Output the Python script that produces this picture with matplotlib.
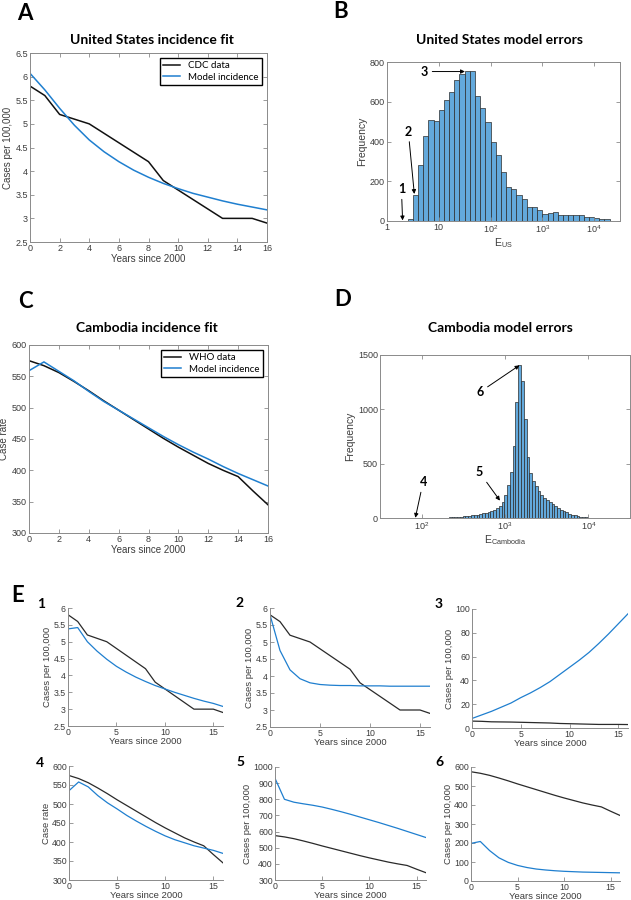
import numpy as np
import matplotlib
matplotlib.use('Agg')
import matplotlib.pyplot as plt
from matplotlib.ticker import NullLocator

plt.rcParams['font.family'] = ['Liberation Sans', 'DejaVu Sans']
plt.rcParams['mathtext.default'] = 'regular'

W, H = 631, 900

# ---- data ----
years = list(range(17))

us_cdc = [5.8, 5.6, 5.2, 5.1, 5.0, 4.8, 4.6, 4.4, 4.2, 3.8, 3.6, 3.4, 3.2, 3.0, 3.0, 3.0, 2.9]
us_model = [6.07, 5.72, 5.33, 4.97, 4.66, 4.41, 4.2, 4.02, 3.87, 3.74, 3.63, 3.53,
            3.45, 3.37, 3.3, 3.24, 3.18]

kh_who = [575, 567, 556, 542, 527, 511, 496, 481, 466, 451, 437, 424, 411, 400, 390, 367, 345]
kh_model = [559, 573, 558, 543, 526, 510, 496, 482, 468, 454, 441, 429, 418, 406, 395, 385, 375]

# model errors histograms (log10 bin start, bin width in log10, counts)
us_bin_start, us_bin_width = 0.4, 0.1
us_counts = [10, 130, 280, 430, 510, 505, 560, 610, 650, 710, 740, 755, 755, 630, 570,
             500, 400, 330, 245, 173, 161, 133, 111, 69, 69, 57, 35, 42, 45, 29, 29,
             32, 30, 29, 22, 22, 17, 12, 8, 2, 1]

kh_bin_start, kh_bin_width = 1.8917, 1 / 30
kh_counts = [1, 0, 0, 1, 0, 1, 1, 1, 2, 2, 3, 3, 4, 5, 6, 8, 10, 12, 14, 17, 20, 24, 28,
             32, 37, 42, 47, 53, 60, 72, 90, 115, 150, 210, 300, 420, 660, 1070, 1410,
             1260, 910, 560, 410, 340, 290, 250, 215, 188, 165, 145, 126, 108, 92, 78,
             64, 52, 41, 32, 24, 17, 12, 8, 6, 4, 3, 2, 2, 1, 1, 1, 1, 0, 1]

# example fits in panel E
e1_model = [5.38, 5.42, 5.0, 4.72, 4.48, 4.27, 4.1, 3.95, 3.82, 3.7, 3.6, 3.5, 3.41,
            3.32, 3.24, 3.17, 3.08]
e2_model = [5.8, 4.75, 4.18, 3.92, 3.8, 3.75, 3.73, 3.72, 3.72, 3.71, 3.71, 3.71, 3.7,
            3.7, 3.7, 3.7, 3.7]
e3_model = [8, 11, 14, 17.5, 21, 25.5, 29.5, 34, 39, 45, 51, 57, 63.5, 71, 79, 87.5, 96]
e4_model = [535, 558, 545, 522, 503, 487, 470, 455, 441, 428, 416, 406, 398, 390, 384,
            378, 370]
e5_model = [930, 800, 782, 772, 763, 752, 738, 723, 707, 690, 673, 656, 638, 620, 601,
            582, 563]
e6_model = [198, 208, 160, 122, 98, 82, 71, 63, 58, 54, 51, 49, 47, 46, 45, 44, 43]

# arrows on the histograms: label, tip (E, count), text (E, count)
us_marks = [('1', (2.0, 3), (1.9, 160)),
            ('2', (3.37, 136), (2.58, 450)),
            ('3', (32, 752), (5.3, 752))]
kh_marks = [('4', (84, 2), (104, 330)),
            ('5', (870, 160), (494, 420)),
            ('6', (1490, 1405), (502, 1160))]

BLACK = '#111111'
BLUE = '#1f7fcf'
BAR = '#63a9dc'
GRID = '#8a8a8a'
TXT = '#3c3c3c'

fig = plt.figure(figsize=(W / 100, H / 100), dpi=100)


def add_ax(l, t, r, b):
    return fig.add_axes([l / W, 1 - b / H, (r - l) / W, (b - t) / H])


def style(ax, box=True, size=6.5):
    for s in ax.spines.values():
        s.set_color(GRID)
        s.set_linewidth(0.7)
    ax.tick_params(direction='in', length=3, width=0.6, colors=GRID, labelcolor=TXT,
                   labelsize=size, top=box, right=box, pad=1.5)
    if not box:
        ax.spines['top'].set_visible(False)
        ax.spines['right'].set_visible(False)


def label(x, y, s, size, **kw):
    fig.text(x / W, 1 - y / H, s, ha='center', va='center', fontsize=size,
             family='Lato', fontweight='bold', **kw)


def hist(ax, start, width, counts):
    edges = 10 ** (start + width * np.arange(len(counts) + 1))
    ax.bar(edges[:-1], counts, width=np.diff(edges), align='edge', color=BAR,
           edgecolor='#2b2b2b', linewidth=0.5)
    ax.set_xscale('log')
    ax.xaxis.set_minor_locator(NullLocator())


def arrows(ax, marks):
    for s, tip, txt in marks:
        ax.annotate(s, xy=tip, xytext=txt, ha='center', va='center', fontsize=9,
                    family='Lato', fontweight='bold',
                    arrowprops=dict(arrowstyle='-|>', color='k', lw=0.7,
                                    mutation_scale=6, shrinkA=1, shrinkB=0))


# ---- A ----
ax = add_ax(30, 53, 267, 242)
ax.plot(years, us_cdc, color=BLACK, lw=1.1, label='CDC data')
ax.plot(years, us_model, color=BLUE, lw=1.1, label='Model incidence')
ax.set_xlim(0, 16)
ax.set_ylim(2.5, 6.5)
ax.set_xticks(range(0, 17, 2))
ax.set_yticks(np.arange(2.5, 6.6, 0.5))
ax.set_yticklabels(['2.5', '3', '3.5', '4', '4.5', '5', '5.5', '6', '6.5'])
ax.set_xlabel('Years since 2000', fontsize=7, color=TXT, labelpad=1)
ax.set_ylabel('Cases per 100,000', fontsize=7, color=TXT, labelpad=2)
style(ax)
ax.legend(loc='upper right', fancybox=False, edgecolor='k', framealpha=1,
          prop={'family': 'Lato', 'size': 7}, handlelength=1.8, borderpad=0.35,
          labelspacing=0.25)
label(152, 40, 'United States incidence fit', 10)
label(25, 14, 'A', 16)

# ---- B ----
ax = add_ax(387, 62, 620, 221)
hist(ax, us_bin_start, us_bin_width, us_counts)
ax.set_xlim(1, 10 ** 4.5)
ax.set_ylim(0, 800)
ax.set_xticks([1, 10, 100, 1000, 10000])
ax.set_xticklabels(['1', '10', '10$^{2}$', '10$^{3}$', '10$^{4}$'])
ax.set_yticks(range(0, 801, 200))
ax.set_xlabel('E$_{US}$', fontsize=7.5, color=TXT, labelpad=1)
ax.set_ylabel('Frequency', fontsize=7.5, color=TXT, labelpad=2)
style(ax)
arrows(ax, us_marks)
label(500, 40, 'United States model errors', 10)
label(341, 11, 'B', 16)

# ---- C ----
ax = add_ax(29, 345, 268, 533)
ax.plot(years, kh_who, color=BLACK, lw=1.1, label='WHO data')
ax.plot(years, kh_model, color=BLUE, lw=1.1, label='Model incidence')
ax.set_xlim(0, 16)
ax.set_ylim(300, 600)
ax.set_xticks(range(0, 17, 2))
ax.set_yticks(range(300, 601, 50))
ax.set_xlabel('Years since 2000', fontsize=7, color=TXT, labelpad=1)
ax.set_ylabel('Case rate', fontsize=7, color=TXT, labelpad=2)
style(ax)
ax.legend(loc='upper right', fancybox=False, edgecolor='k', framealpha=1,
          prop={'family': 'Lato', 'size': 7}, handlelength=1.8, borderpad=0.35,
          labelspacing=0.25)
label(147, 328, 'Cambodia incidence fit', 10)
label(25, 302, 'C', 16)

# ---- D ----
ax = add_ax(380, 355, 630, 518)
hist(ax, kh_bin_start, kh_bin_width, kh_counts)
ax.set_xlim(10 ** 1.5, 10 ** 4.5)
ax.set_ylim(0, 1500)
ax.set_xticks([100, 1000, 10000])
ax.set_xticklabels(['10$^{2}$', '10$^{3}$', '10$^{4}$'])
ax.set_yticks(range(0, 1501, 500))
ax.set_xlabel('E$_{Cambodia}$', fontsize=7.5, color=TXT, labelpad=1)
ax.set_ylabel('Frequency', fontsize=7.5, color=TXT, labelpad=2)
style(ax)
arrows(ax, kh_marks)
label(500, 328, 'Cambodia model errors', 10)
label(343, 299, 'D', 16)

# ---- E ----
label(18, 596, 'E', 16)
e_panels = [
    ((68, 608, 223, 726), us_cdc, e1_model, (2.5, 6), np.arange(2.5, 6.1, 0.5),
     'Cases per 100,000', '1', (41, 604)),
    ((270, 608, 430, 727), us_cdc, e2_model, (2.5, 6), np.arange(2.5, 6.1, 0.5),
     'Cases per 100,000', '2', (240, 603)),
    ((472, 609, 628, 728), us_cdc, e3_model, (0, 100), range(0, 101, 20),
     'Cases per 100,000', '3', (439, 604)),
    ((69, 766, 223, 880), kh_who, e4_model, (300, 600), range(300, 601, 50),
     'Case rate', '4', (40, 763)),
    ((275, 767, 426, 880), kh_who, e5_model, (300, 1000), range(300, 1001, 100),
     'Cases per 100,000', '5', (240, 762)),
    ((471, 767, 620, 881), kh_who, e6_model, (0, 600), range(0, 601, 100),
     'Cases per 100,000', '6', (439, 762)),
]
for rect, data, model, ylim, yt, ylab, tag, pos in e_panels:
    ax = add_ax(*rect)
    ax.plot(years, data, color='#2a2a2a', lw=0.9)
    ax.plot(years, model, color=BLUE, lw=0.9)
    ax.set_xlim(0, 16)
    ax.set_ylim(*ylim)
    ax.set_xticks([0, 5, 10, 15])
    ax.set_yticks(list(yt))
    ax.set_yticklabels(['%g' % v for v in yt])
    ax.set_xlabel('Years since 2000', fontsize=6.8, color=TXT, labelpad=0)
    ax.set_ylabel(ylab, fontsize=6.8, color=TXT, labelpad=1)
    style(ax, box=False, size=6.3)
    label(pos[0], pos[1], tag, 10)

fig.savefig('out.png', dpi=100)
